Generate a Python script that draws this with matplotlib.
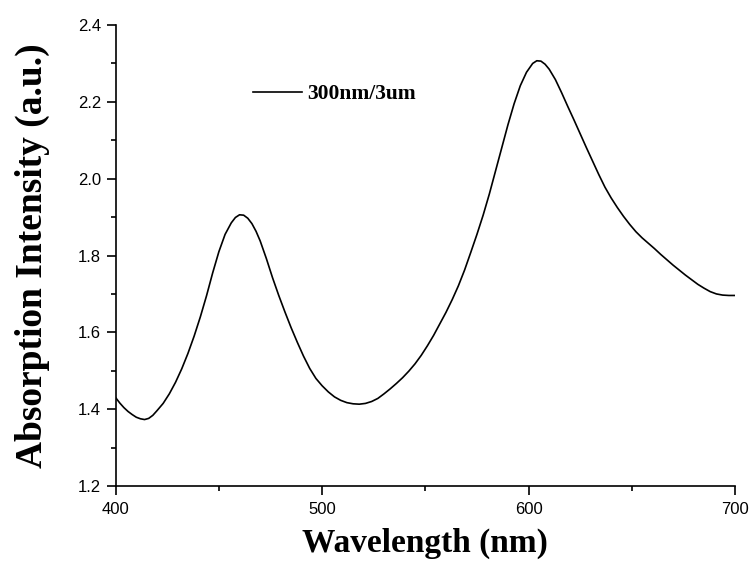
import matplotlib
matplotlib.use('Agg')
import matplotlib.pyplot as plt
from matplotlib.ticker import MultipleLocator

# absorption spectrum (nm, a.u.)
wavelength = [400, 402, 404, 406, 408, 410, 412, 414, 416, 418, 420, 423, 426,
              429, 432, 435, 438, 441, 444, 447, 450, 453, 456, 458, 460, 462,
              464, 466, 468, 470, 473, 476, 479, 482, 485, 488, 491, 494, 497,
              500, 503, 506, 509, 512, 515, 518, 521, 524, 527, 530, 533, 536,
              539, 542, 545, 548, 551, 554, 557, 560, 563, 566, 569, 572, 575,
              578, 581, 584, 587, 590, 593, 596, 599, 602, 604, 606, 608, 610,
              613, 616, 619, 622, 625, 628, 631, 634, 637, 640, 643, 646, 649,
              652, 655, 658, 661, 664, 667, 670, 673, 676, 679, 682, 685, 688,
              691, 694, 697, 700]
absorb = [1.430, 1.416, 1.404, 1.394, 1.386, 1.379, 1.375, 1.373, 1.376, 1.384,
          1.396, 1.415, 1.440, 1.470, 1.505, 1.545, 1.590, 1.640, 1.695, 1.755,
          1.810, 1.855, 1.885, 1.899, 1.906, 1.905, 1.897, 1.883, 1.863, 1.838,
          1.792, 1.742, 1.696, 1.653, 1.612, 1.574, 1.538, 1.506, 1.480, 1.461,
          1.445, 1.432, 1.423, 1.417, 1.414, 1.413, 1.415, 1.420, 1.428, 1.440,
          1.453, 1.467, 1.482, 1.499, 1.518, 1.540, 1.565, 1.592, 1.622, 1.652,
          1.685, 1.721, 1.762, 1.808, 1.855, 1.905, 1.960, 2.020, 2.080, 2.140,
          2.195, 2.242, 2.277, 2.300, 2.307, 2.306, 2.298, 2.285, 2.258, 2.224,
          2.188, 2.153, 2.117, 2.081, 2.046, 2.011, 1.978, 1.950, 1.925, 1.902,
          1.881, 1.862, 1.846, 1.832, 1.818, 1.803, 1.789, 1.775, 1.762, 1.749,
          1.737, 1.725, 1.715, 1.706, 1.700, 1.697, 1.696, 1.696]

serif = 'Liberation Serif'
sans = 'Liberation Sans'

fig = plt.figure(figsize=(7.55, 5.74), dpi=100)
ax = fig.add_axes([0.1532, 0.1533, 0.8203, 0.8031])

ax.plot(wavelength, absorb, color='black', lw=1.2, label='300nm/3um')

ax.set_xlim(400, 700)
ax.set_ylim(1.2, 2.4)
ax.xaxis.set_major_locator(MultipleLocator(100))
ax.xaxis.set_minor_locator(MultipleLocator(50))
ax.yaxis.set_major_locator(MultipleLocator(0.2))
ax.yaxis.set_minor_locator(MultipleLocator(0.1))
ax.yaxis.set_major_formatter(plt.FormatStrFormatter('%.1f'))

for s in ['top', 'right']:
    ax.spines[s].set_visible(False)
for s in ['left', 'bottom']:
    ax.spines[s].set_linewidth(1.2)

ax.tick_params(which='major', direction='out', length=6.5, width=1.2, labelsize=12)
ax.tick_params(which='minor', direction='out', length=3.6, width=1.2)
ax.tick_params(axis='x', pad=5)
ax.tick_params(axis='y', pad=4)
for lab in ax.get_xticklabels() + ax.get_yticklabels():
    lab.set_fontfamily(sans)

ax.set_xlabel('Wavelength (nm)', fontsize=24, fontweight='bold', family=serif, labelpad=8)
ax.set_ylabel('Absorption Intensity (a.u.)', fontsize=27, fontweight='bold', family=serif, labelpad=20)

ax.legend(loc='center left', bbox_to_anchor=(0.2212, 0.85), frameon=False,
          prop={'family': serif, 'weight': 'bold', 'size': 15.5},
          handlelength=2.28, handletextpad=0.25, borderpad=0, borderaxespad=0)

plt.savefig('out.png', dpi=100)
